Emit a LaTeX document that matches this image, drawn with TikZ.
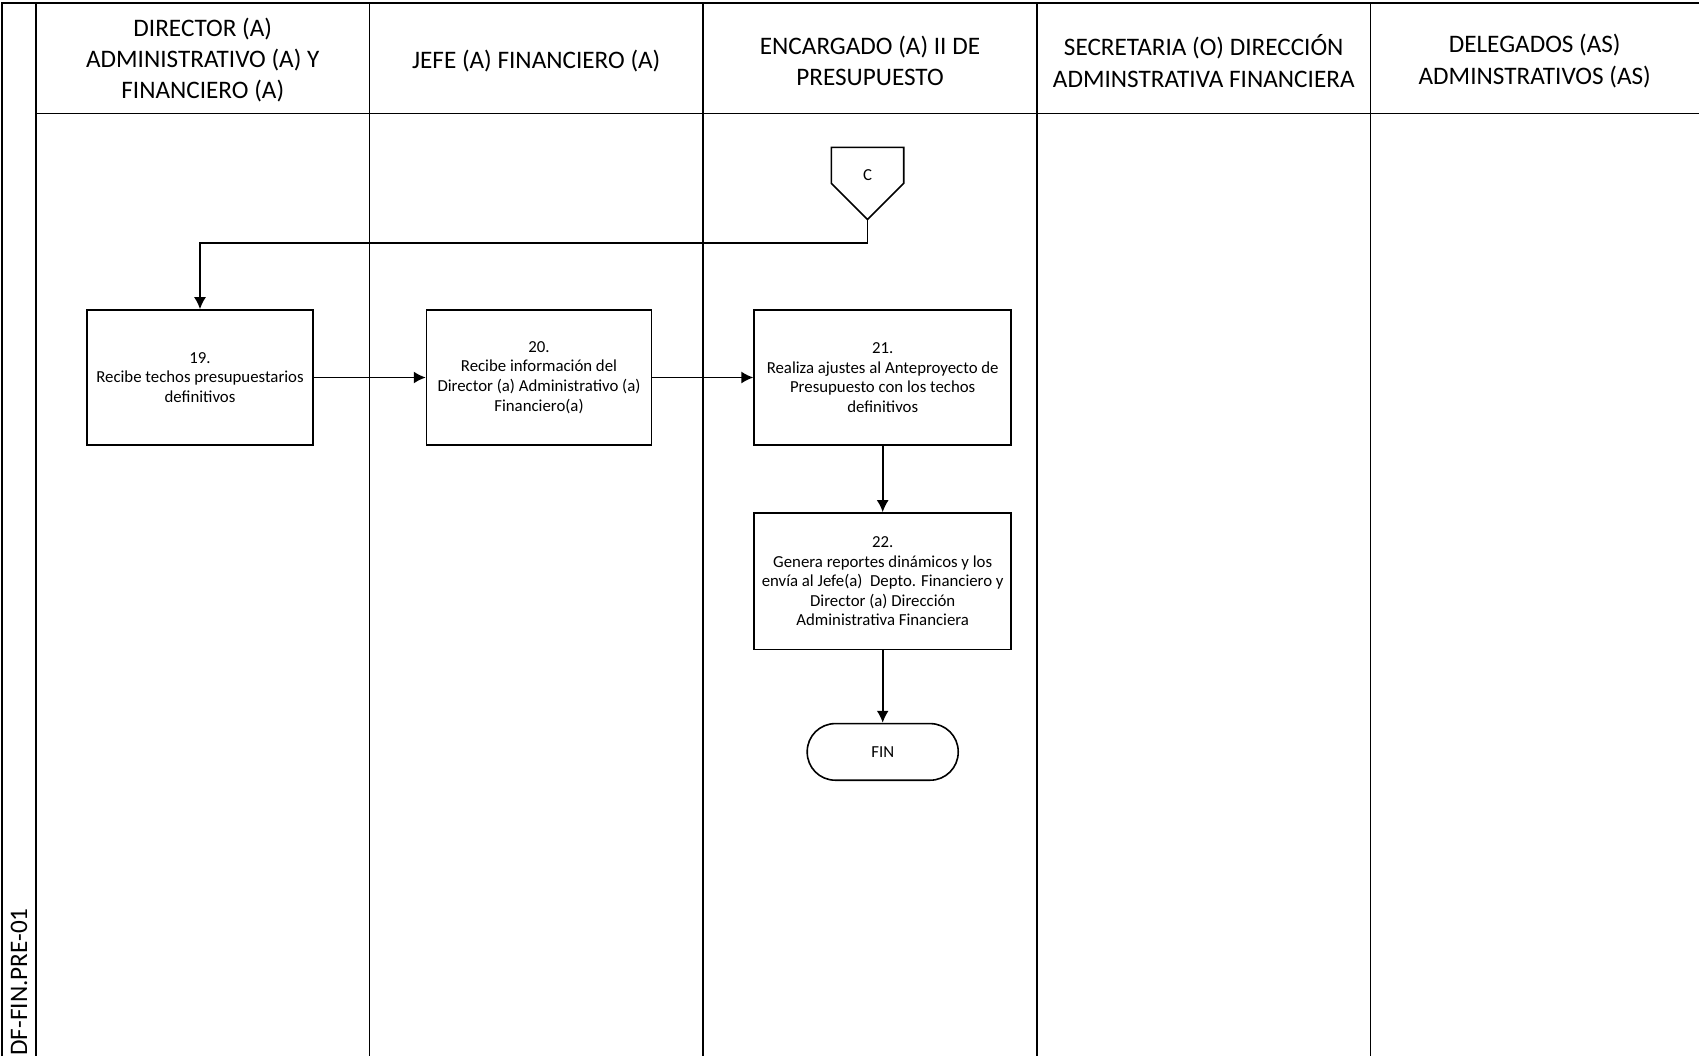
\documentclass[tikz,border=0pt]{standalone}
\usepackage{fontspec}
\setmainfont{Carlito}
\usetikzlibrary{arrows.meta,positioning}

\newcommand{\lanefont}{\fontsize{12.6}{15.6}\selectfont}
\newcommand{\taskfont}{\fontsize{8.4}{9.8}\selectfont}

\begin{document}
\begin{tikzpicture}[x=0.5pt,y=-0.5pt,
    lane/.style={align=center,font=\lanefont},
    task/.style={rectangle,draw,line width=0.8pt,align=center,font=\taskfont,minimum height=67.5pt,inner sep=2pt},
    terminal/.style={rectangle,draw,rounded corners=14pt,line width=0.8pt,font=\taskfont,minimum width=75.5pt,minimum height=28.3pt},
    offpage/.style={inner sep=0pt,minimum width=35.8pt,minimum height=35.6pt},
    arrow/.style={-{Latex[length=6pt,width=6pt]},line width=0.9pt},
    grid/.style={line width=0.9pt}
]
\useasboundingbox (0,0) rectangle (1699,1056);
% swimlanes
\draw[grid] (2,1056) -- (2,3) -- (1699,3);
\draw[grid] (36,113.5) -- (1699,113.5);
\foreach \x in {36,369.5,703,1037,1370.5}
  \draw[grid] (\x,3) -- (\x,1056);
\node[lane] (dir) at (202.75,60) {DIRECTOR (A)\\ADMINISTRATIVO (A) Y\\FINANCIERO (A)};
\node[lane] (jefe) at (536.25,61.5) {JEFE (A) FINANCIERO (A)};
\node[lane] (enc) at (870,61) {ENCARGADO (A) II DE\\PRESUPUESTO};
\node[lane] (sec) at (1203.75,61) {SECRETARIA (O) DIRECCIÓN\\ADMINSTRATIVA FINANCIERA};
\node[lane] (del) at (1534.75,61) {DELEGADOS (AS)\\ADMINSTRATIVOS (AS)};
\node[lane,rotate=90,anchor=base west,inner sep=0pt] (code) at (27,1056) {DF-FIN.PRE-01};
% connector
\node[offpage] (c) at (867.5,183.4) {};
\node[font=\taskfont] (clbl) at ([yshift=4pt]c.center) {C};
\draw[line width=0.8pt] (c.north west) -- (c.north east) -- (c.east) -- (c.south) -- (c.west) -- cycle;
% steps
\node[task,minimum width=113.2pt] (b19) at (200,377.5) {19.\\Recibe techos presupuestarios\\definitivos};
\node[task,minimum width=112.4pt,right=55.9pt of b19] (b20) {20.\\Recibe información del\\Director (a) Administrativo (a)\\Financiero(a)};
\node[task,minimum width=128.5pt,right=50.6pt of b20] (b21) {21.\\Realiza ajustes al Anteproyecto de\\Presupuesto con los techos\\definitivos};
\node[task,minimum width=128.5pt,minimum height=68.3pt,below=33.2pt of b21] (b22) {22.\\Genera reportes dinámicos y los\\envía al Jefe(a)\ \ Depto. Financiero y\\Director (a) Dirección\\Administrativa Financiera};
\node[terminal,below=36.2pt of b22] (fin) {FIN};
\draw[arrow] (c.south) -- ++(0,23.3) -| (b19);
\draw[arrow] (b19) -- (b20);
\draw[arrow] (b20) -- (b21);
\draw[arrow] (b21) -- (b22);
\draw[arrow] (b22) -- (fin);
\end{tikzpicture}
\end{document}
